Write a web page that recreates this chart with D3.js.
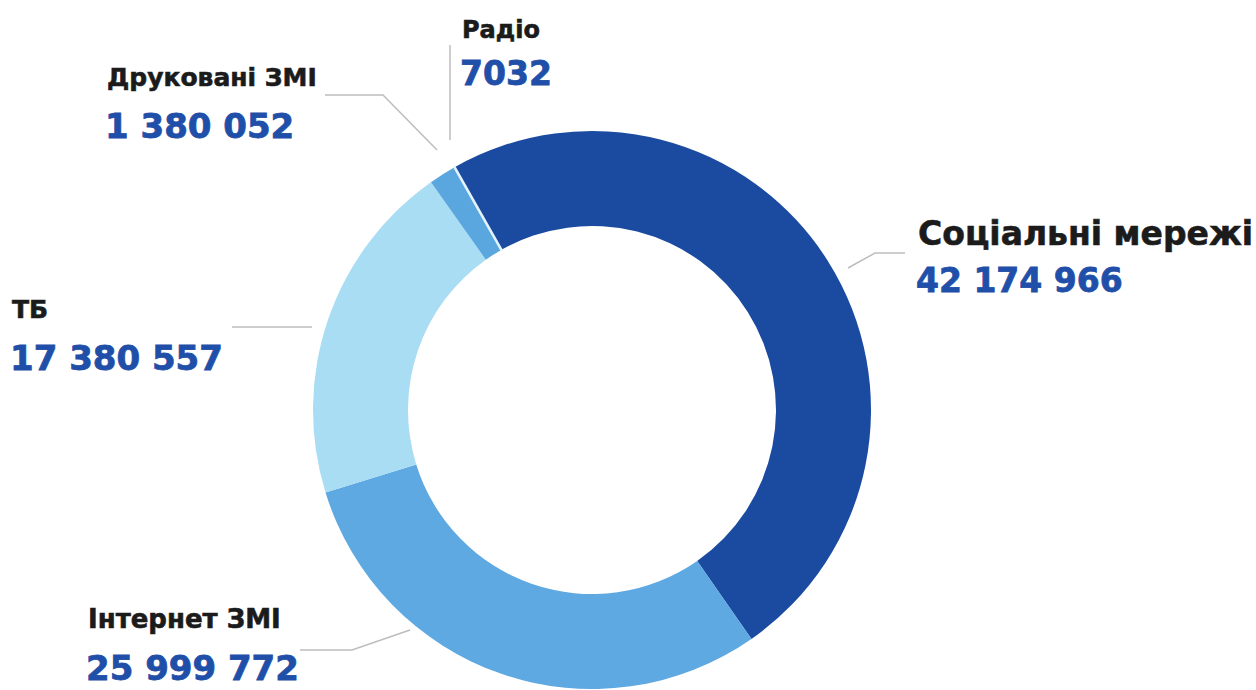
<!DOCTYPE html>
<html>
<head>
<meta charset="utf-8">
<script src="https://cdn.jsdelivr.net/npm/d3@7"></script>
<style>
  body { margin: 0; background: #fff; }
  text { font-family: "DejaVu Sans", sans-serif; font-weight: bold; }
</style>
</head>
<body>
<div id="chart"></div>
<script>
// data
var categories = ["Соціальні мережі", "Інтернет ЗМІ", "ТБ", "Друковані ЗМІ", "Радіо"];
var values = [42174966, 25999772, 17380557, 1380052, 7032];
var valueLabels = ["42 174 966", "25 999 772", "17 380 557", "1 380 052", "7032"];
var colors = ["#1a4ba0", "#5ea9e2", "#a9ddf3", "#5aa7e0", "#e3f2fb"];

var width = 1256, height = 690;
var cx = 592, cy = 410, outerR = 279, innerR = 184;

var svg = d3.select("#chart")
    .append("svg")
    .attr("width", width)
    .attr("height", height);

var startA = -29.5 * Math.PI / 180;
var pie = d3.pie()
    .sort(null)
    .startAngle(startA)
    .endAngle(startA + 2 * Math.PI);

var arc = d3.arc()
    .innerRadius(innerR)
    .outerRadius(outerR);

var g = svg.append("g")
    .attr("transform", "translate(" + cx + "," + cy + ")");

g.selectAll("path")
    .data(pie(values))
    .enter()
    .append("path")
    .attr("d", arc)
    .attr("fill", function(d, i) { return colors[i]; })
    .attr("stroke", function(d, i) { return i == 4 ? colors[i] : "none"; })
    .attr("stroke-width", 2.5);

// leader lines (polylines) and labels, in category order
var leaders = [
    [[848, 268], [875, 253], [905, 253]],
    [[410, 630], [352, 650], [300, 650]],
    [[312, 327], [232, 327]],
    [[437, 150], [383, 95], [325, 95]],
    [[450, 140], [450, 45]]
];

var labelPos = [
    {x: 918, y: 245, ny: 292, fs: 33, nfs: 33},
    {x: 88, y: 628, ny: 680, fs: 26, nfs: 34},
    {x: 12, y: 318, ny: 370, fs: 25, nfs: 34},
    {x: 107, y: 86, ny: 138, fs: 25, nfs: 34},
    {x: 462, y: 38, ny: 85, fs: 24, nfs: 33}
];

var line = d3.line();

svg.append("g")
    .selectAll("path")
    .data(leaders)
    .enter()
    .append("path")
    .attr("d", line)
    .attr("fill", "none")
    .attr("stroke", "#bdbdbd")
    .attr("stroke-width", 1.5);

var labels = svg.append("g")
    .selectAll("g")
    .data(categories)
    .enter()
    .append("g");

labels.append("text")
    .attr("x", function(d, i) { return labelPos[i].x; })
    .attr("y", function(d, i) { return labelPos[i].y; })
    .attr("font-size", function(d, i) { return labelPos[i].fs; })
    .attr("fill", "#1b1b1b")
    .attr("stroke", "#1b1b1b")
    .attr("stroke-width", 0.6)
    .text(function(d) { return d; });

labels.append("text")
    .attr("x", function(d, i) { return labelPos[i].x - 2; })
    .attr("y", function(d, i) { return labelPos[i].ny; })
    .attr("font-size", function(d, i) { return labelPos[i].nfs; })
    .attr("fill", "#1f4fa8")
    .attr("stroke", "#1f4fa8")
    .attr("stroke-width", 0.8)
    .text(function(d, i) { return valueLabels[i]; });
</script>
</body>
</html>
